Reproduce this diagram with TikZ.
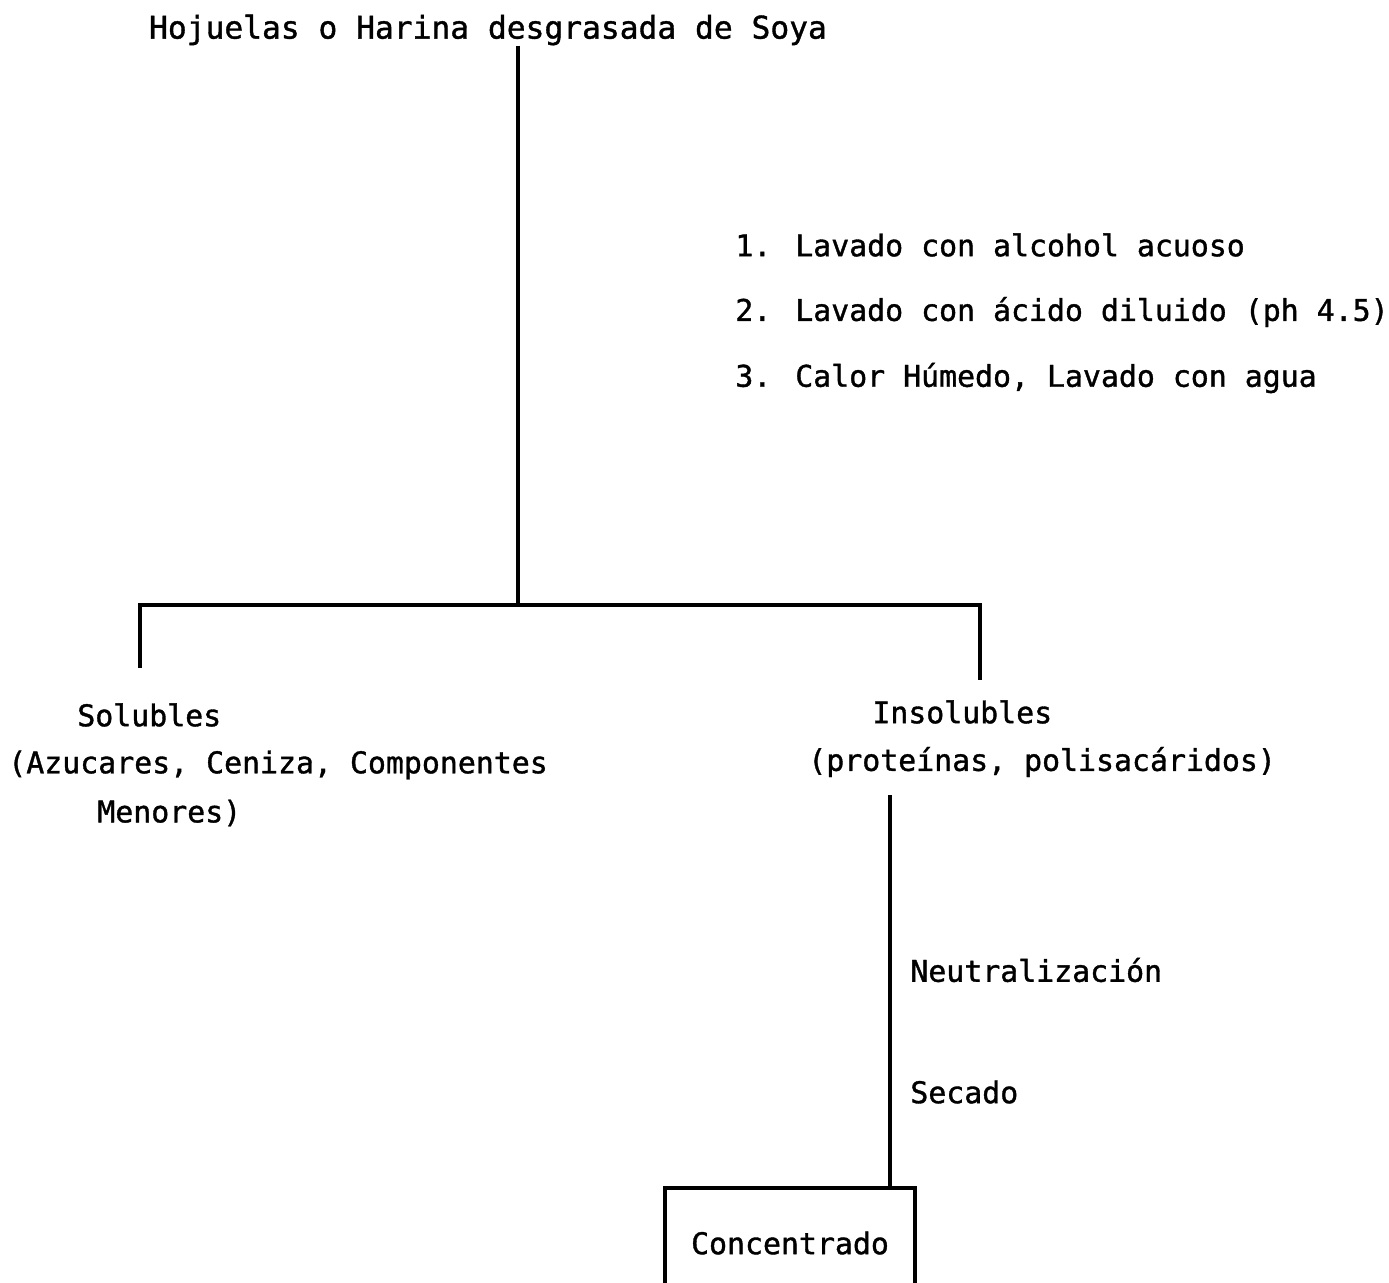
\documentclass[tikz,border=0pt]{standalone}
\usepackage{fontspec}
\setmainfont[FakeBold=1.2]{DejaVu Sans Mono}
\begin{document}
\begin{tikzpicture}[x=0.02cm,y=-0.02cm,
    txt/.style={inner sep=0pt,font=\fontsize{17}{20}\selectfont},
    lne/.style={line width=2.2pt}]
  \useasboundingbox (0,0) rectangle (1389,1282);

  \node[txt,font=\fontsize{17.8}{20}\selectfont] (title) at (488,30) {Hojuelas o Harina desgrasada de Soya};

  \node[txt,anchor=west] (st1) at (735,245) {1. Lavado con alcohol acuoso};
  \node[txt,anchor=west] (st2) at (735,312) {2. Lavado con ácido diluido (ph 4.5)};
  \node[txt,anchor=west] (st3) at (735,378) {3. Calor Húmedo, Lavado con agua};

  \coordinate (split) at (518,605);
  \coordinate (lft) at (140,605);
  \coordinate (rgt) at (980,605);
  \coordinate (lftend) at (140,668);
  \coordinate (rgtend) at (980,680);

  \node[txt,anchor=west] (sol) at (77,715) {Solubles};
  \node[txt,anchor=west] (solA) at (8,765) {(Azucares, Ceniza, Componentes};
  \node[txt,anchor=west] (solB) at (97,813) {Menores)};

  \node[txt,anchor=west] (ins) at (872,712) {Insolubles};
  \node[txt,anchor=west] (insA) at (808,762) {(proteínas, polisacáridos)};

  \coordinate (instop) at (890,795);
  \node[txt,anchor=west] (neu) at (910,970) {Neutralización};
  \node[txt,anchor=west] (sec) at (910,1092) {Secado};

  \node[txt,draw,lne,minimum width=5cm,minimum height=2.2cm] (conc) at (790,1243) {Concentrado};

  \draw[lne] (title.south -| split) -- (split);
  \draw[lne] (lftend) -- (lft) -- (rgt) -- (rgtend);
  \draw[lne] (instop) -- (conc.north -| instop);
\end{tikzpicture}
\end{document}
